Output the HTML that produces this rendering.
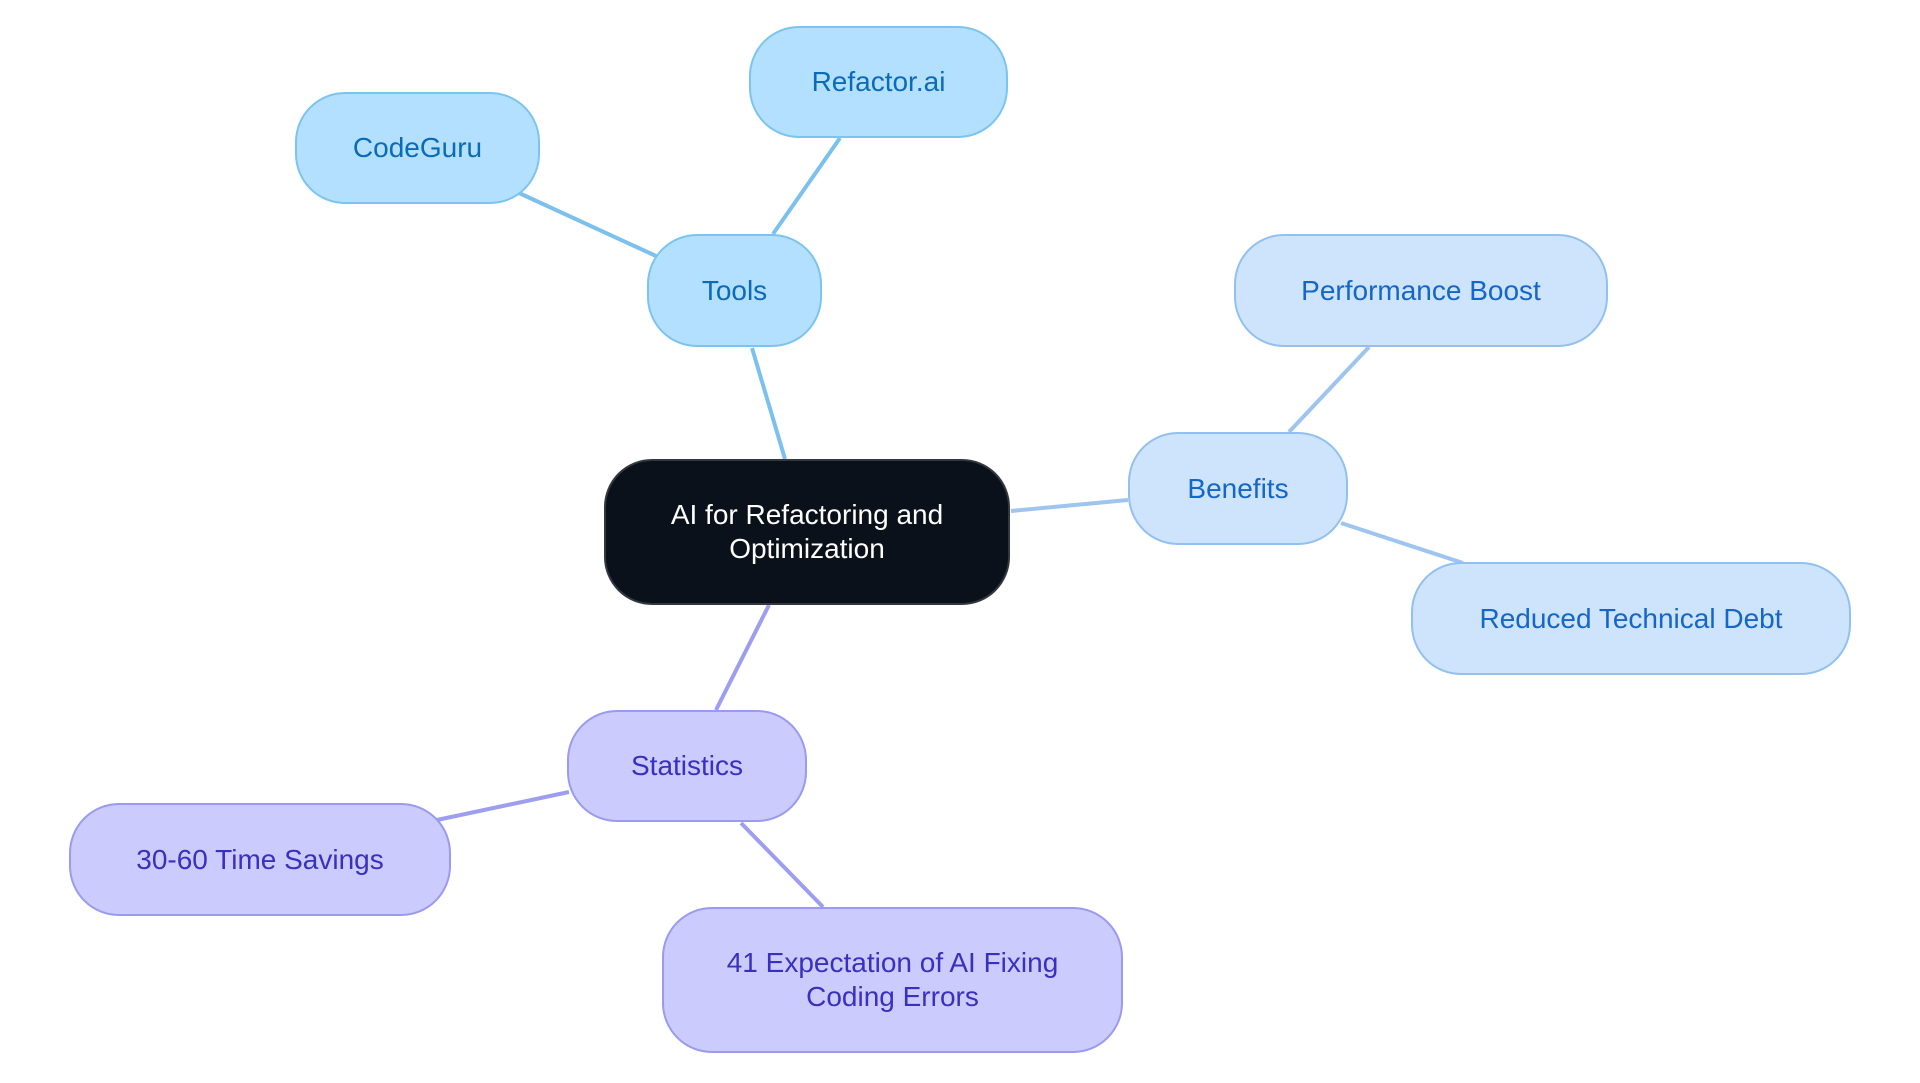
<!DOCTYPE html>
<html><head><style>
body{margin:0;width:1920px;height:1083px;background:#fff;position:relative;overflow:hidden;font-family:"Liberation Sans",sans-serif}
.n{position:absolute;box-sizing:border-box;display:flex;align-items:center;justify-content:center;text-align:center;font-size:28px;line-height:34px;border-radius:50px;border:2px solid}
.t{background:#b3e0ff;border-color:#7cc4f0;color:#0b6bb8}
.b{background:#cde4fc;border-color:#92c0f0;color:#1466c8}
.s{background:#cbcbfd;border-color:#9a9af0;color:#3a30c0}
svg{position:absolute;left:0;top:0}
</style></head><body>
<svg width="1920" height="1083" fill="none" stroke-width="4">
<g stroke="#7cc0ee"><line x1="752" y1="348" x2="785" y2="459"/><line x1="656" y1="256" x2="519" y2="193"/><line x1="773" y1="234" x2="840" y2="138"/></g>
<g stroke="#9ec4f0"><line x1="1011" y1="511" x2="1128" y2="500"/><line x1="1289" y1="432" x2="1369" y2="347"/><line x1="1341" y1="523" x2="1463" y2="563"/></g>
<g stroke="#9e9ef0"><line x1="769" y1="605" x2="716" y2="710"/><line x1="569" y1="792" x2="437" y2="820"/><line x1="741" y1="823" x2="823" y2="907"/></g>
</svg>
<div class="n" style="left:604px;top:459px;width:406px;height:146px;background:#0b111b;border-color:#333840;color:#fff;border-radius:48px">AI for Refactoring and<br>Optimization</div>
<div class="n t" style="left:647px;top:234px;width:175px;height:113px">Tools</div>
<div class="n t" style="left:295px;top:92px;width:245px;height:112px">CodeGuru</div>
<div class="n t" style="left:749px;top:26px;width:259px;height:112px">Refactor.ai</div>
<div class="n b" style="left:1128px;top:432px;width:220px;height:113px">Benefits</div>
<div class="n b" style="left:1234px;top:234px;width:374px;height:113px">Performance Boost</div>
<div class="n b" style="left:1411px;top:562px;width:440px;height:113px">Reduced Technical Debt</div>
<div class="n s" style="left:567px;top:710px;width:240px;height:112px">Statistics</div>
<div class="n s" style="left:69px;top:803px;width:382px;height:113px">30-60 Time Savings</div>
<div class="n s" style="left:662px;top:907px;width:461px;height:146px">41 Expectation of AI Fixing<br>Coding Errors</div>
</body></html>
